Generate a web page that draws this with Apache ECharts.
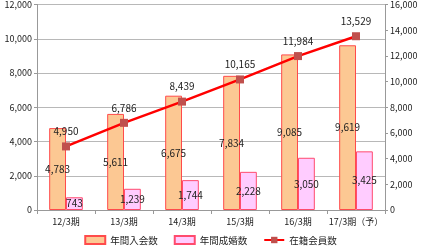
<!DOCTYPE html>
<html><head><meta charset="utf-8">
<script src="https://cdn.jsdelivr.net/npm/echarts@6/dist/echarts.min.js"></script>
<style>html,body{margin:0;padding:0;background:#fff}#c{width:421px;height:249px}</style>
</head><body><div id="c"></div>
<script>
var categories = ['12/3期','13/3期','14/3期','15/3期','16/3期','17/3期（予）'];
var nyukai = [4783,5611,6675,7834,9085,9619];
var seikon = [743,1239,1744,2228,3050,3425];
var zaiseki = [4950,6786,8439,10165,11984,13529];
var fontF = '"Noto Sans CJK JP","Liberation Sans",sans-serif';
var chart = echarts.init(document.getElementById('c'));
var lblFmt = function(p){return p.value.toLocaleString('en-US');};
chart.setOption({
  animation:false,
  textStyle:{fontFamily:fontF},
  grid:{left:37,right:36,top:3,bottom:39},
  legend:{bottom:-1,left:'center',itemGap:16,itemWidth:20,itemHeight:8,
    textStyle:{fontSize:9.5,color:'#222',fontFamily:fontF},
    data:[{name:'年間入会数',icon:'rect'},{name:'年間成婚数',icon:'rect'},{name:'在籍会員数'}]},
  xAxis:{type:'category',data:categories,
    axisLine:{lineStyle:{color:'#999'}},
    axisTick:{show:true,length:4,lineStyle:{color:'#999'}},
    axisLabel:{fontSize:9,color:'#222',margin:7,interval:0}},
  yAxis:[{type:'value',min:0,max:12000,interval:2000,
    axisLine:{show:true,lineStyle:{color:'#999'}},
    axisTick:{show:true,length:3,lineStyle:{color:'#999'}},
    axisLabel:{fontSize:9,color:'#222',margin:5,formatter:function(v){return v.toLocaleString('en-US');}},
    splitLine:{lineStyle:{color:'#b8b8b8'}}},
   {type:'value',min:0,max:16000,interval:2000,position:'right',
    axisLine:{show:true,lineStyle:{color:'#999'}},
    axisTick:{show:true,length:3,lineStyle:{color:'#999'}},
    axisLabel:{fontSize:9,color:'#222',margin:5,formatter:function(v){return v.toLocaleString('en-US');}},
    splitLine:{show:false}}],
  series:[
   {name:'年間入会数',type:'bar',data:nyukai,barGap:'0%',barCategoryGap:'42%',
    itemStyle:{color:'#fcc893',borderColor:'#ff4b4b',borderWidth:1},
    label:{show:true,position:'inside',color:'#222',fontSize:10,formatter:lblFmt}},
   {name:'年間成婚数',type:'bar',data:seikon,
    itemStyle:{color:'#ffccff',borderColor:'#ff4b6e',borderWidth:1},
    label:{show:true,position:'inside',color:'#222',fontSize:10,formatter:lblFmt}},
   {name:'在籍会員数',type:'line',yAxisIndex:1,data:zaiseki,symbol:'rect',symbolSize:8,
    lineStyle:{color:'#ff0000',width:2.5},itemStyle:{color:'#c0504d'},
    label:{show:true,position:'top',distance:6,color:'#222',fontSize:10,formatter:lblFmt},z:5}
  ]
});
</script></body></html>
